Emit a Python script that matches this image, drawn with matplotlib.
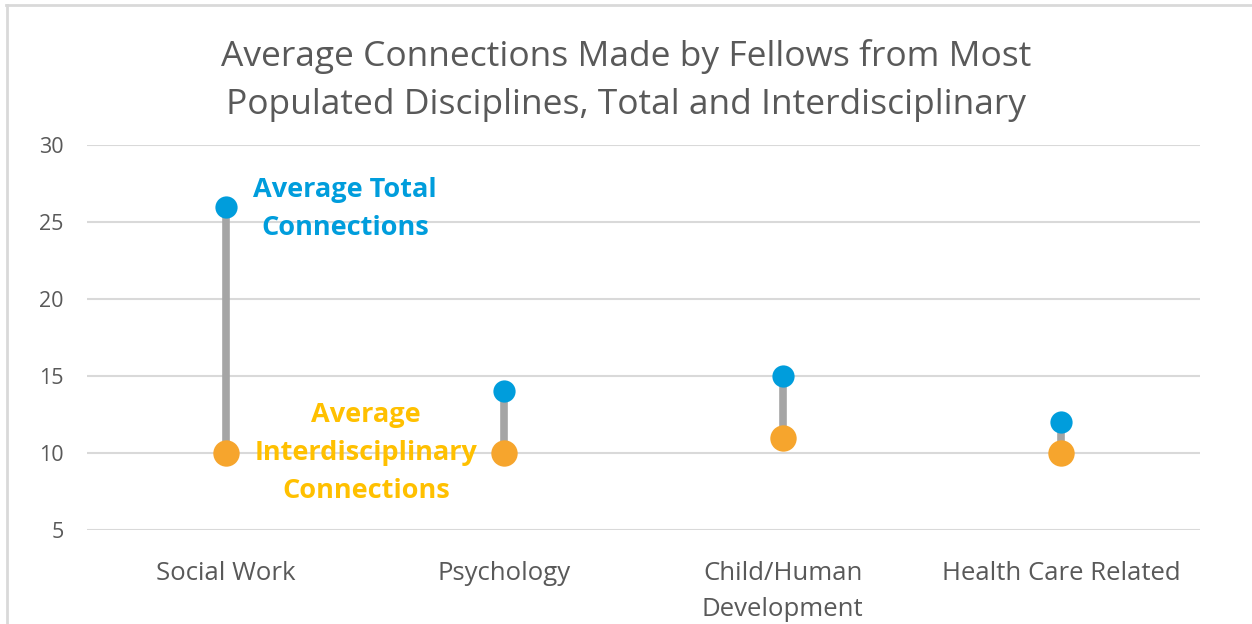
import matplotlib
import matplotlib.pyplot as plt
from matplotlib.lines import Line2D

matplotlib.use("Agg")

# Data
categories = ["Social Work", "Psychology", "Child/Human\nDevelopment", "Health Care Related"]
total = [26, 14, 15, 12]
interdisc = [10, 10, 11, 10]

BLUE = "#009DDC"
ORANGE = "#F6A52D"
LABEL_ORANGE = "#FFC000"
STEM = "#A5A5A5"
TEXT = "#595959"
GRID = "#D9D9D9"

plt.rcParams["font.family"] = ["Open Sans", "DejaVu Sans"]

fig = plt.figure(figsize=(12.52, 6.24), dpi=100)
ax = fig.add_axes([0.0695, 0.1506, 0.889, 0.617])

x = list(range(len(categories)))
ax.vlines(x, interdisc, total, color=STEM, lw=5.5, zorder=2)
ax.plot(x, total, "o", color=BLUE, ms=16, mec="none", zorder=3)
ax.plot(x, interdisc, "o", color=ORANGE, ms=19, mec="none", zorder=3)

ax.set_xlim(-0.5, len(categories) - 0.5)
ax.set_ylim(5, 30)
ax.set_yticks(range(5, 31, 5))
ax.set_xticks(x)
ax.set_xticklabels(categories, fontsize=18.5, color=TEXT, va="top", linespacing=1.58)
ax.tick_params(axis="y", labelsize=15.5, labelcolor=TEXT, length=0, pad=17)
ax.tick_params(axis="x", length=0, pad=22)
ax.grid(axis="y", color=GRID, lw=1.5)
ax.set_axisbelow(True)
for s in ax.spines.values():
    s.set_visible(False)

# Series labels
ax.text(0.427, 25.85, "Average Total\nConnections", color=BLUE, fontsize=19.5,
        fontweight="bold", ha="center", va="center", linespacing=1.58)
ax.text(0.503, 10.0, "Average\nInterdisciplinary\nConnections", color=LABEL_ORANGE,
        fontsize=19.5, fontweight="bold", ha="center", va="center", linespacing=1.6)

fig.text(0.5, 0.871, "Average Connections Made by Fellows from Most\n"
         "Populated Disciplines, Total and Interdisciplinary",
         ha="center", va="center", fontsize=25.5, color=TEXT, linespacing=1.52)

# Chart border (top and left only visible)
fig.add_artist(Line2D([0.005, 1], [0.9912, 0.9912], color=GRID, lw=2, transform=fig.transFigure))
fig.add_artist(Line2D([0.0055, 0.0055], [0, 0.9912], color=GRID, lw=2, transform=fig.transFigure))

fig.savefig("out.png", dpi=100)
